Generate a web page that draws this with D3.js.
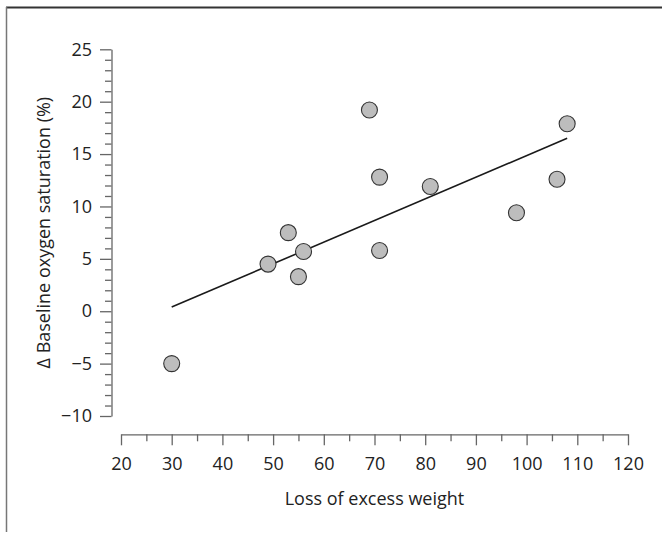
<!DOCTYPE html>
<meta charset="utf-8">
<style>
body {
    margin: 0;
    background: #fff;
}

.chart text {
    font-family: "Open Sans", "Noto Sans", sans-serif;
    fill: #222;
}

.chart .axis path,
.chart .axis line {
    stroke: #666;
    stroke-width: 1.3;
}

.chart .fit {
    fill: none;
    stroke: #1a1a1a;
    stroke-width: 1.6;
}

.chart .dot {
    fill: #bdbdbd;
    stroke: #333;
    stroke-width: 1.1;
}
</style>
<body>

<svg class="chart js-chart"></svg>

<script src="https://cdn.jsdelivr.net/npm/d3@7"></script>
<script type="text/javascript">
"use strict";

// loss of excess weight (x) vs change in baseline oxygen saturation (y)
var lossOfWeight = [30, 49, 53, 55, 56, 69, 71, 71, 81, 98, 106, 108];
var deltaSaturation = [-5, 4.5, 7.5, 3.3, 5.7, 19.2, 12.8, 5.8, 11.9, 9.4, 12.6, 17.9];

// regression line end points as drawn
var fitX = [30, 108];
var fitY = [0.4, 16.5];

var xTicks = [20, 30, 40, 50, 60, 70, 80, 90, 100, 110, 120];
var xMinorTicks = [25, 35, 45, 55, 65, 75, 85, 95, 105, 115];
var yTicks = [-10, -5, 0, 5, 10, 15, 20, 25];
var yMinorTicks = d3.range(-10, 26).filter(function(d) { return d % 5 !== 0; });

var width = 662,
    height = 537,
    yAxisX = 111.5,
    xAxisY = 434.3;

var svg = d3.select(".js-chart")
    .attr("width", width)
    .attr("height", height);

// frame (only top and left edges visible)
svg.append("line")
    .attr("x1", 6).attr("x2", width)
    .attr("y1", 7.5).attr("y2", 7.5)
    .attr("stroke", "#333").attr("stroke-width", 2);
svg.append("line")
    .attr("x1", 6.5).attr("x2", 6.5)
    .attr("y1", 7).attr("y2", 532)
    .attr("stroke", "#777").attr("stroke-width", 1.5);

var x = d3.scaleLinear().domain([20, 120]).range([121, 628]);
var y = d3.scaleLinear().domain([-10, 25]).range([416, 49.3]);

// x axis
var xAxisG = svg.append("g")
    .attr("class", "axis")
    .attr("transform", "translate(0," + xAxisY + ")");
xAxisG.call(d3.axisBottom(x)
    .tickValues(xTicks)
    .tickSize(11)
    .tickSizeOuter(0)
    .tickPadding(12));
xAxisG.append("g").call(d3.axisBottom(x)
    .tickValues(xMinorTicks)
    .tickSize(7)
    .tickFormat(""))
    .select(".domain").remove();
xAxisG.selectAll("text").attr("font-size", 18).attr("font-family", null);

// y axis
var yAxisG = svg.append("g")
    .attr("class", "axis")
    .attr("transform", "translate(" + yAxisX + ",0)");
yAxisG.call(d3.axisLeft(y)
    .tickValues(yTicks)
    .tickSize(11.5)
    .tickSizeOuter(0)
    .tickPadding(8));
yAxisG.append("g").call(d3.axisLeft(y)
    .tickValues(yMinorTicks)
    .tickSize(6.5)
    .tickFormat(""))
    .select(".domain").remove();
yAxisG.selectAll("text").attr("font-size", 18).attr("font-family", null);

// axis titles
svg.append("text")
    .attr("x", (x.range()[0] + x.range()[1]) / 2)
    .attr("y", 504.5)
    .attr("text-anchor", "middle")
    .attr("font-size", 18)
    .text("Loss of excess weight");

svg.append("text")
    .attr("transform", "translate(49.5," + ((y.range()[0] + y.range()[1]) / 2) + ") rotate(-90)")
    .attr("text-anchor", "middle")
    .attr("font-size", 18)
    .text("\u0394 Baseline oxygen saturation (%)");

// regression line
svg.append("line")
    .attr("class", "fit")
    .attr("x1", x(fitX[0])).attr("y1", y(fitY[0]))
    .attr("x2", x(fitX[1])).attr("y2", y(fitY[1]));

// points
svg.selectAll(".dot")
    .data(lossOfWeight)
    .enter().append("circle")
    .attr("class", "dot")
    .attr("cx", function(d) { return x(d); })
    .attr("cy", function(d, i) { return y(deltaSaturation[i]); })
    .attr("r", 8);

</script>
</body>
